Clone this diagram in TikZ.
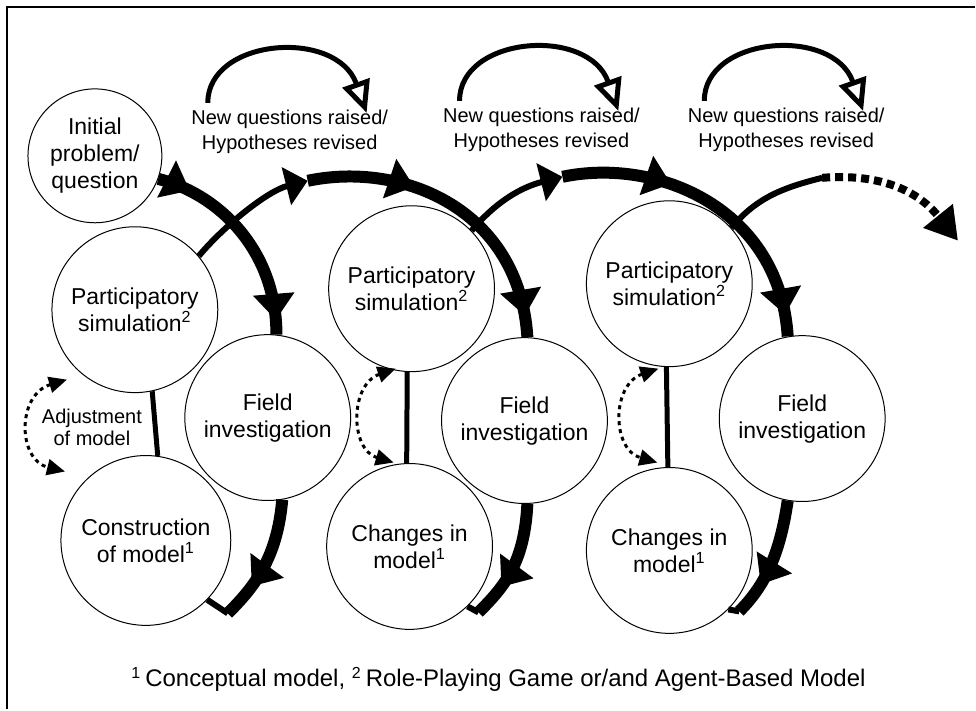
\documentclass[tikz,border=0pt]{standalone}
\usepackage{fontspec}
\setmainfont{Liberation Sans}
\usetikzlibrary{arrows.meta, decorations.markings, calc}

\begin{document}
\begin{tikzpicture}[
    x=0.5pt, y=-0.5pt,
    stage/.style={circle, draw, line width=0.5pt, fill=white, minimum size=83pt, inner sep=0pt, align=center, font=\fontsize{11.5}{13.5}\selectfont},
    question/.style={align=center, inner sep=0pt, font=\fontsize{10}{12.5}\selectfont},
    flow/.style={draw, line width=6pt},
    link/.style={draw, line width=3pt},
    riser/.style={draw, line width=2.5pt},
    revise/.style={draw, line width=2.5pt, -{Triangle[open, length=16pt, width=14pt]}},
    adjust/.style={draw, line width=1.5pt, dash pattern=on 2pt off 2pt, {Triangle[length=9pt, width=8pt]}-{Triangle[length=9pt, width=8pt]}},
    headat/.style={postaction={decorate, decoration={markings, mark=at position #1 with {\arrow{Triangle[length=13pt, width=20pt]}}}}}
]
% canvas and frame
\path [fill=white] (0,0) rectangle (976,710);
\draw [line width=1pt] (976,7) -- (7,7) -- (7,710);

% stages
\node [stage, minimum size=67pt] (init) at (95,156) {Initial\\problem/\\question};
\node [stage] (sim1) at (135,310) {Participatory\\simulation\textsuperscript{2}};
\node [stage] (field1) at (268,418) {Field\\investigation};
\node [stage, minimum size=85pt] (model1) at (146,541) {Construction\\of model\textsuperscript{1}};
\node [stage] (sim2) at (412,289) {Participatory\\simulation\textsuperscript{2}};
\node [stage] (field2) at (525,421) {Field\\investigation};
\node [stage] (model2) at (410,547) {Changes in\\model\textsuperscript{1}};
\node [stage] (sim3) at (670,284) {Participatory\\simulation\textsuperscript{2}};
\node [stage] (field3) at (803,419) {Field\\investigation};
\node [stage] (model3) at (670,551) {Changes in\\model\textsuperscript{1}};

% texts
\node [question] (ques1) at (290,132) {New questions raised/\\Hypotheses revised};
\node [question] (ques2) at (542,130) {New questions raised/\\Hypotheses revised};
\node [question] (ques3) at (787,130) {New questions raised/\\Hypotheses revised};
\node [question, font=\fontsize{10}{11}\selectfont] (adjust1) at (92,428) {Adjustment\\of model};
\node [font=\fontsize{12}{14}\selectfont] (note) at (499,680) {\textsuperscript{1}\,Conceptual model, \textsuperscript{2}\,Role-Playing Game or/and Agent-Based Model};

% junctions
\coordinate (join1) at (308,181);
\coordinate (join2) at (563,177);
\coordinate (join3) at (823,178);
\coordinate (bend1) at (228,614);
\coordinate (bend2) at (479,613);
\coordinate (bend3) at (740,612);
\coordinate (exit) at (959,241);
\coordinate (adj1a) at (67,380);
\coordinate (adj1b) at (65,472);
\coordinate (adj2a) at (396,369);
\coordinate (adj2b) at (394,463);
\coordinate (adj3a) at (659,369);
\coordinate (adj3b) at (658,463);

% first cycle
\path [flow, headat=0.16, headat=0.93] (init.-20) .. controls +(60,15) and +(0,-85) .. (field1.84);
\path [flow, headat=0.72] (field1.-80) .. controls +(-5,60) and +(25,-25) .. (bend1);
\path [link] (bend1) -- (model1.-44);
\path [riser] (model1.82) -- (sim1.-78);
\path [link, -{Triangle[length=11pt, width=19pt]}] (sim1.40) .. controls +(25,-30) and +(-40,10) .. (join1);
\path [adjust] (adj1a) .. controls (17,395) and (17,460) .. (adj1b);

% second cycle
\path [flow, headat=0.35, headat=0.93] (join1) .. controls +(95,-20) and +(-8,-128) .. (field2.88);
\path [flow, headat=0.72] (field2.-88) .. controls +(-3,60) and +(25,-25) .. (bend2);
\path [link] (bend2) -- (model2.-46);
\path [riser] (model2.92) -- (sim2.-93);
\path [link, -{Triangle[length=11pt, width=19pt]}] (sim2.44) .. controls +(25,-30) and +(-40,10) .. (join2);
\path [adjust] (adj2a) .. controls (350,385) and (350,450) .. (adj2b);

% third cycle
\path [flow, headat=0.35, headat=0.93] (join2) .. controls +(95,-20) and +(-8,-128) .. (field3.100);
\path [flow, headat=0.72] (field3.-100) .. controls +(-8,55) and +(25,-25) .. (bend3);
\path [link] (bend3) -- (model3.-45);
\path [riser] (model3.91) -- (sim3.-92);
\path [link] (sim3.42) .. controls +(25,-30) and +(-40,10) .. (join3);
\path [draw, line width=4pt, dash pattern=on 4pt off 2.5pt, -{Triangle[length=16pt, width=18pt]}] (join3) .. controls +(77,-6) and +(-29,-36) .. (exit);
\path [adjust] (adj3a) .. controls (612,385) and (612,450) .. (adj3b);

% revisions
\path [revise] ($(ques1)+(-82,-29)$) .. controls +(0,-65) and +(-30,-85) .. ($(ques1)+(77,-19)$);
\path [revise] ($(ques2)+(-82,-29)$) .. controls +(0,-65) and +(-30,-85) .. ($(ques2)+(77,-19)$);
\path [revise] ($(ques3)+(-82,-29)$) .. controls +(0,-65) and +(-30,-85) .. ($(ques3)+(77,-19)$);
\end{tikzpicture}
\end{document}
